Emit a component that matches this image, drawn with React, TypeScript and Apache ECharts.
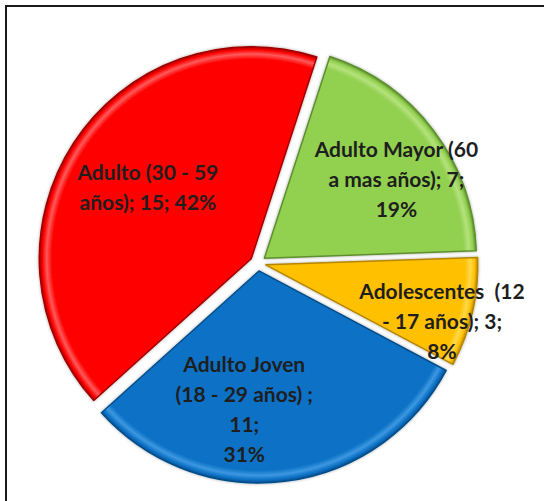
import React, { useEffect, useRef } from "react";
import * as echarts from "echarts";

// Data (clockwise order starting just right of 12 o'clock)
const categories = [
  "Adulto Mayor (60\na mas años)",
  "Adolescentes  (12\n- 17 años)",
  "Adulto Joven\n(18 - 29 años) ",
  "Adulto (30 - 59\naños)",
];
const values = [7, 3, 11, 15];
// separators between name/value and value/percent, per slice
const separators: [string, string][] = [
  ["; ", ";\n"],
  ["; ", ";\n"],
  [";\n", ";\n"],
  ["; ", "; "],
];

const colors = ["#92D050", "#FFC000", "#0B72C6", "#FF0000"];
const rims = ["#B4E27C", "#FFD84A", "#3E97E0", "#FF5A5A"];
const borders = ["#5E8F2E", "#B58600", "#064E8C", "#A00000"];
const labelShift: [number, number][] = [
  [45, -14],
  [70, 31],
  [-28, 29],
  [-12, -13],
];

const CX = 258;
const CY = 263;
const R = 212;

export default function App() {
  const ref = useRef<HTMLDivElement>(null);
  useEffect(() => {
    if (!ref.current) return;
    const chart = echarts.init(ref.current, undefined, { renderer: "svg" });
    const data = categories.map((name, i) => {
      const style = {
        color: {
          type: "radial",
          x: CX,
          y: CY,
          r: R,
          global: true,
          colorStops: [
            { offset: 0, color: colors[i] },
            { offset: 0.94, color: colors[i] },
            { offset: 0.965, color: rims[i] },
            { offset: 0.985, color: colors[i] },
            { offset: 1, color: borders[i] },
          ],
        },
        borderColor: borders[i],
        borderWidth: 1.5,
        shadowBlur: 3,
        shadowColor: "rgba(0,0,0,0.35)",
      };
      return {
        name,
        value: values[i],
        selected: true,
        itemStyle: style,
        select: { itemStyle: style },
      };
    });
    chart.setOption({
      animation: false,
      backgroundColor: "#ffffff",
      graphic: [
        {
          type: "rect",
          shape: { x: 6, y: 6, width: 600, height: 600 },
          style: { fill: "none", stroke: "#1a1a1a", lineWidth: 2 },
          z: 100,
        },
      ],
      series: [
        {
          type: "pie",
          center: [CX, CY],
          radius: R,
          startAngle: 72,
          clockwise: true,
          selectedMode: "multiple",
          selectedOffset: 8,
          avoidLabelOverlap: false,
          emphasis: { disabled: true },
          label: {
            show: true,
            position: "inside",
            fontFamily: "Lato",
            fontWeight: "bold",
            fontSize: 21,
            lineHeight: 30,
            color: "#1e1e1e",
            align: "center",
            formatter: (p: any) => {
              const i = p.dataIndex;
              const [s1, s2] = separators[i];
              return `${p.name}${s1}${p.value}${s2}${Math.round(p.percent)}%`;
            },
          },
          labelLayout: (p: any) => ({
            dx: labelShift[p.dataIndex][0],
            dy: labelShift[p.dataIndex][1],
          }),
          labelLine: { show: false },
          data,
        },
      ],
    });
    return () => chart.dispose();
  }, []);
  return (
    <div
      ref={ref}
      style={{ position: "fixed", left: 0, top: 0, width: 544, height: 501 }}
    />
  );
}
